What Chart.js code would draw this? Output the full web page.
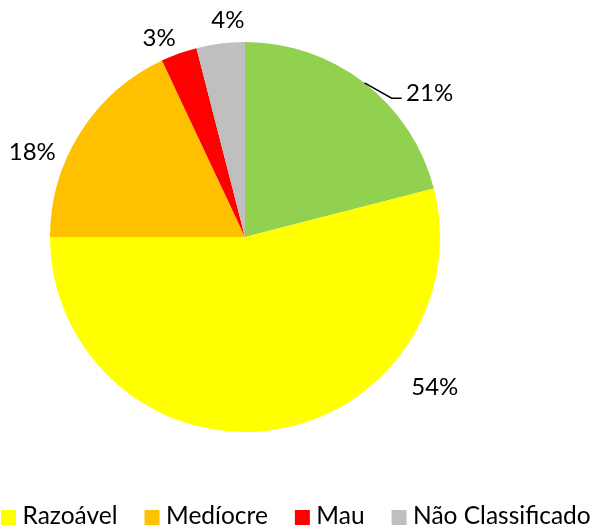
<!DOCTYPE html>
<html>
<head>
<meta charset="utf-8">
<script src="https://cdn.jsdelivr.net/npm/chart.js@4.4.1/dist/chart.umd.min.js"></script>
<style>
  html, body { margin: 0; padding: 0; background: #fff; }
  #wrap { width: 599px; height: 526px; position: relative; }
</style>
</head>
<body>
<div id="wrap"><canvas id="pieChart" width="599" height="526"></canvas></div>
<script>
// dados do grafico
const categorias = ["Bom", "Razoável", "Medíocre", "Mau", "Não Classificado"];
const percentagens = [21, 54, 18, 3, 4];
const cores = ["#92D050", "#FFFF00", "#FFC000", "#FF0000", "#BFBFBF"];

const FONTE = "Lato, 'Open Sans', sans-serif";

// rotulos de % fora da fatia (tipo Excel "best fit")
const rotulosPlugin = {
    id: 'rotulos',
    afterDatasetsDraw(chart, args, opts) {
        const ctx = chart.ctx;
        const meta = chart.getDatasetMeta(0);
        ctx.save();
        ctx.font = opts.size + "px " + FONTE;
        ctx.fillStyle = "#000";
        ctx.textAlign = "center";
        ctx.textBaseline = "middle";
        meta.data.forEach((arc, i) => {
            const p = opts.pos[i];
            const mid = (arc.startAngle + arc.endAngle) / 2;
            const ang = mid + p.da * Math.PI / 180;
            const r = arc.outerRadius * p.r;
            const tx = arc.x + Math.cos(ang) * r;
            const ty = arc.y + Math.sin(ang) * r;
            ctx.fillText(percentagens[i] + "%", tx, ty);
            if (p.linha) {
                // linha de chamada
                const ex = arc.x + Math.cos(mid) * arc.outerRadius;
                const ey = arc.y + Math.sin(mid) * arc.outerRadius;
                ctx.strokeStyle = "#000";
                ctx.lineWidth = 1.5;
                ctx.beginPath();
                ctx.moveTo(ex, ey);
                ctx.lineTo(tx - 38, ty + 5);
                ctx.lineTo(tx - 28, ty + 5);
                ctx.stroke();
            }
        });
        ctx.restore();
    }
};

// legenda desenhada a mao (cortada a esquerda como no original)
const legendaPlugin = {
    id: 'legenda',
    afterDraw(chart, args, opts) {
        const ctx = chart.ctx;
        ctx.save();
        ctx.font = opts.size + "px " + FONTE;
        ctx.textBaseline = "alphabetic";
        ctx.textAlign = "left";
        const caixa = 15, gapTxt = 6.5, gapItem = 27;
        // a primeira entrada (Bom) fica fora do canvas
        let x = opts.x0 - (caixa + gapTxt + ctx.measureText(categorias[0]).width + gapItem);
        categorias.forEach((c, i) => {
            ctx.fillStyle = cores[i];
            ctx.fillRect(x, opts.y - caixa + 1, caixa, caixa);
            ctx.fillStyle = "#000";
            ctx.fillText(c, x + caixa + gapTxt, opts.y);
            x += caixa + gapTxt + ctx.measureText(c).width + gapItem;
        });
        ctx.restore();
    }
};

const ctx = document.getElementById('pieChart').getContext('2d');
const grafico = new Chart(ctx, {
    type: 'pie',
    data: {
        labels: categorias,
        datasets: [{ data: percentagens, backgroundColor: cores, borderWidth: 0 }]
    },
    options: {
        responsive: false,
        animation: false,
        layout: { padding: { left: 50, right: 159, top: 42, bottom: 94 } },
        plugins: {
            legend: { display: false },
            tooltip: { enabled: false },
            rotulos: {
                size: 24,
                pos: [
                    { da: 14.3, r: 1.2, linha: true },
                    { da: -44.5, r: 1.24 },
                    { da: -10.6, r: 1.175 },
                    { da: -3.6, r: 1.11 },
                    { da: 2.7, r: 1.115 }
                ]
            },
            legenda: { size: 24.5, x0: 1, y: 524 }
        }
    },
    plugins: [rotulosPlugin, legendaPlugin]
});
</script>
</body>
</html>
